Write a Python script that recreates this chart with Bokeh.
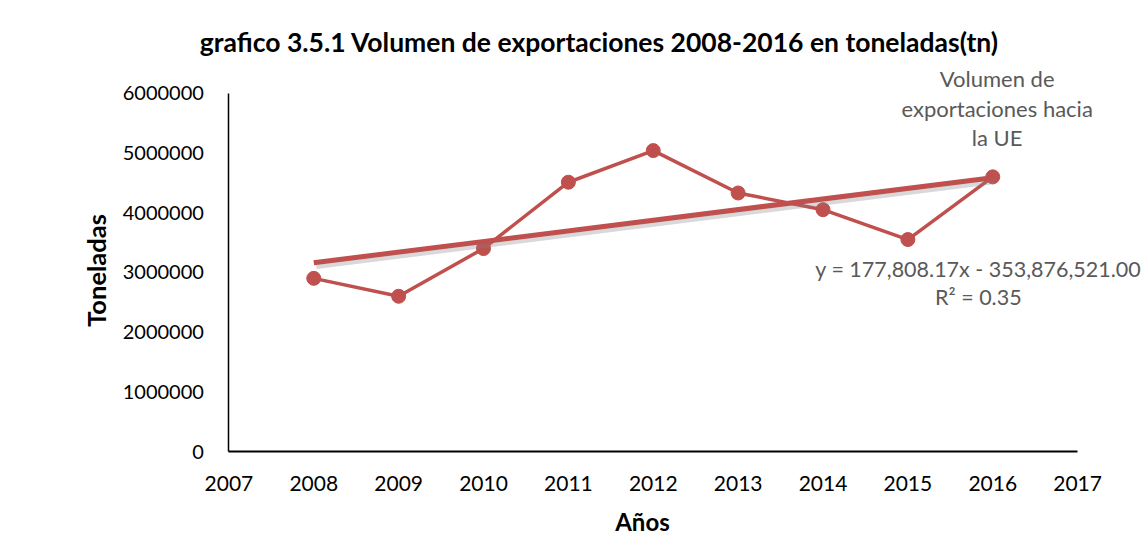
import numpy as np
from bokeh.plotting import figure
from bokeh.models import Range1d, FixedTicker, Label
from bokeh.embed import file_html
from bokeh.resources import INLINE

# ---- data ----
years = [2008, 2009, 2010, 2011, 2012, 2013, 2014, 2015, 2016]
volumen = [2900000, 2600000, 3400000, 4510000, 5040000, 4330000, 4050000, 3550000, 4600000]

x_ticks = [2007, 2008, 2009, 2010, 2011, 2012, 2013, 2014, 2015, 2016, 2017]
x_tick_labels = ["2007", "2008", "2009", "2010", "2011", "2012", "2013", "2014", "2015", "2016", "2017"]
y_ticks = [0, 1000000, 2000000, 3000000, 4000000, 5000000, 6000000]
y_tick_labels = ["0", "1000000", "2000000", "3000000", "4000000", "5000000", "6000000"]

trend_slope = 177808.17
trend_intercept = -353876521.00

title_text = "grafico 3.5.1 Volumen de exportaciones 2008-2016 en toneladas(tn)"
x_title = "Años"
y_title = "Toneladas"
series_label_lines = ["Volumen de", "exportaciones hacia", "la UE"]
equation_lines = ["y = 177,808.17x - 353,876,521.00", "R² = 0.35"]

# ---- style / layout ----
RED = "#C0504D"
GRAY_TXT = "#595959"
FONT = "Lato"
X_MIN, X_MAX = 2007, 2017
Y_MIN, Y_MAX = 0, 6000000

p = figure(width=1144, height=554, output_backend="svg", toolbar_location=None,
           x_range=Range1d(2004.309, 2017.788), y_range=Range1d(-1725000, 7554000),
           min_border=0)
p.outline_line_color = None
p.background_fill_color = "white"
p.border_fill_color = "white"
p.xgrid.grid_line_color = None
p.ygrid.grid_line_color = None

# axes placed at the data origin, limited to the plotted range
p.xaxis.fixed_location = Y_MIN
p.xaxis.bounds = (X_MIN, X_MAX)
p.yaxis.fixed_location = X_MIN
p.yaxis.bounds = (Y_MIN, Y_MAX)
for ax in (p.xaxis[0], p.yaxis[0]):
    ax.major_tick_line_color = None
    ax.minor_tick_line_color = None
    ax.major_tick_in = 0
    ax.major_tick_out = 0
    ax.minor_tick_in = 0
    ax.minor_tick_out = 0
    ax.axis_line_color = "black"
    ax.major_label_text_font = FONT
    ax.major_label_text_color = "black"

p.xaxis.major_label_text_font_size = "21px"
p.yaxis.major_label_text_font_size = "20px"
p.xaxis.ticker = FixedTicker(ticks=x_ticks)
p.xaxis.major_label_overrides = {t: l for t, l in zip(x_ticks, x_tick_labels)}
p.yaxis.ticker = FixedTicker(ticks=y_ticks)
p.yaxis.major_label_overrides = {t: l for t, l in zip(y_ticks, y_tick_labels)}
p.xaxis.axis_line_width = 2
p.yaxis.axis_line_width = 1.5
p.xaxis.major_label_standoff = 24
p.yaxis.major_label_standoff = 25

# series
p.line(years, volumen, line_color=RED, line_width=3.5)
p.scatter(years, volumen, marker="circle", size=14, fill_color=RED, line_color=RED)

# trendline (with soft shadow)
tx = np.array([years[0], years[-1]], dtype=float)
ty = trend_slope * tx + trend_intercept
SHADOW_DY = 55000
SHADOW_DX = 0.03
p.line(tx + SHADOW_DX, ty - SHADOW_DY, line_color="#808080", line_alpha=0.3, line_width=6)
p.line(tx, ty, line_color=RED, line_width=5)

# titles
p.add_layout(Label(x=2011.366, y=6860000, text=title_text, text_align="center", text_baseline="middle",
                   text_font=FONT, text_font_style="bold", text_font_size="26.5px", text_color="black"))
p.add_layout(Label(x=2011.873, y=-1172000, text=x_title, text_align="center", text_baseline="middle",
                   text_font=FONT, text_font_style="bold", text_font_size="24px", text_color="black"))
p.add_layout(Label(x=2005.43, y=3032000, text=y_title, text_align="center", text_baseline="middle",
                   angle=np.pi / 2, text_font=FONT, text_font_style="bold", text_font_size="25.5px",
                   text_color="black"))

# annotations
label_y = [6250000, 5750000, 5260000]
for txt, yy in zip(series_label_lines, label_y):
    p.add_layout(Label(x=2016.052, y=yy, text=txt, text_align="center", text_baseline="middle",
                       text_font=FONT, text_font_size="22px", text_color=GRAY_TXT))
eq_y = [3065000, 2580000]
for txt, yy in zip(equation_lines, eq_y):
    p.add_layout(Label(x=2015.83, y=yy, text=txt, text_align="center", text_baseline="middle",
                       text_font=FONT, text_font_size="21.5px", text_color=GRAY_TXT))

open("out.html", "w").write(file_html(p, INLINE))
